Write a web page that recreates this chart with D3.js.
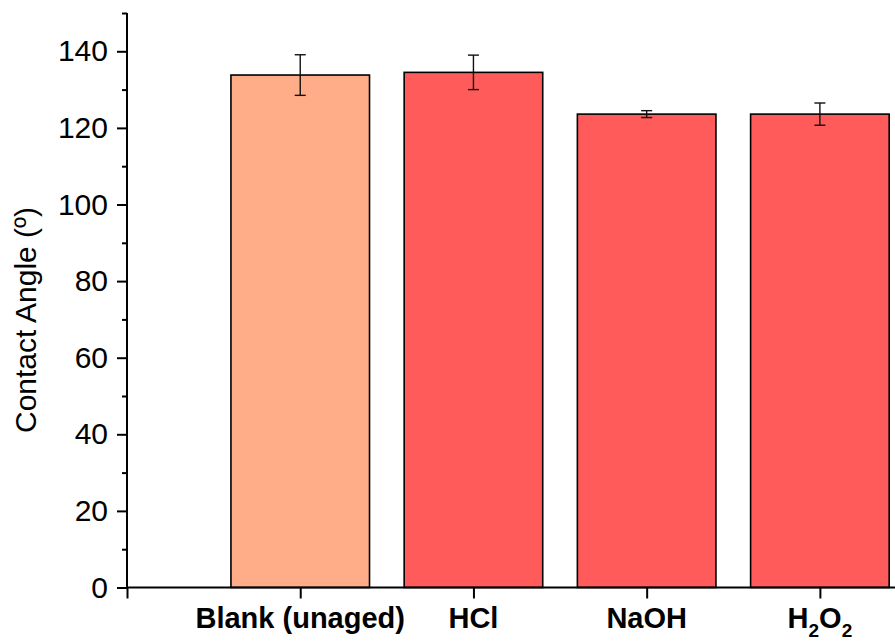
<!DOCTYPE html>
<html>
<head>
<meta charset="utf-8">
<script src="https://cdn.jsdelivr.net/npm/d3@7"></script>
<style>
  body { margin: 0; background: #fff; }
  svg { display: block; font-family: "Liberation Sans", Arial, sans-serif; }
</style>
</head>
<body>
<svg></svg>
<script>
const categories = ['Blank (unaged)', 'HCl', 'NaOH', 'H2O2'];
const means = [133.8, 134.5, 123.6, 123.6];
const errors = [5.3, 4.5, 0.9, 2.9];
const barColors = ['#FFAD88', '#FF5B5B', '#FF5B5B', '#FF5B5B'];
const yTicks = [0, 20, 40, 60, 80, 100, 120, 140];
const yMinorTicks = [10, 30, 50, 70, 90, 110, 130, 150];

const width = 895;
const height = 641;

const svg = d3.select('svg')
  .attr('width', width)
  .attr('height', height);

// axis origin sits at x=127, y=587.5
const x = d3.scaleLinear().domain([0, 4.5]).range([127, 906.5]);
const y = d3.scaleLinear().domain([0, 150]).range([587.5, 13]);
const barW = x(0.8) - x(0);

const data = categories.map((c, i) => ({ cat: c, pos: i + 1, v: means[i], e: errors[i], color: barColors[i] }));

// bars
svg.selectAll('.bar')
  .data(data)
  .enter().append('rect')
  .attr('class', 'bar')
  .attr('x', d => x(d.pos) - barW / 2)
  .attr('y', d => y(d.v))
  .attr('width', barW)
  .attr('height', d => y(0) - y(d.v))
  .attr('fill', d => d.color)
  .attr('stroke', '#000')
  .attr('stroke-width', 1.6);

// error bars
const err = svg.selectAll('.err')
  .data(data)
  .enter().append('g')
  .attr('class', 'err')
  .attr('stroke', '#111')
  .attr('stroke-width', 1.4);

err.append('line')
  .attr('x1', d => x(d.pos)).attr('x2', d => x(d.pos))
  .attr('y1', d => y(d.v + d.e)).attr('y2', d => y(d.v - d.e));
err.append('line')
  .attr('x1', d => x(d.pos) - 5.5).attr('x2', d => x(d.pos) + 5.5)
  .attr('y1', d => y(d.v + d.e)).attr('y2', d => y(d.v + d.e));
err.append('line')
  .attr('x1', d => x(d.pos) - 5.5).attr('x2', d => x(d.pos) + 5.5)
  .attr('y1', d => y(d.v - d.e)).attr('y2', d => y(d.v - d.e));

// y axis
const yAxis = svg.append('g')
  .attr('transform', `translate(${x(0)},0)`)
  .attr('font-size', 30)
  .call(d3.axisLeft(y).tickValues(yTicks).tickSize(10).tickPadding(9));
svg.append('g')
  .attr('transform', `translate(${x(0)},0)`)
  .call(d3.axisLeft(y).tickValues(yMinorTicks).tickSize(5).tickFormat(''))
  .select('.domain').remove();

yAxis.attr('font-size', 30).attr('font-family', '"Liberation Sans", Arial, sans-serif');
yAxis.select('.domain').attr('d', `M0,${y(150)}V${y(0)}`);
yAxis.selectAll('text')
  .style('font-size', '30px')
  .attr('fill', '#000');

// x axis
const xAxis = svg.append('g')
  .attr('transform', `translate(0,${y(0)})`)
  .call(d3.axisBottom(x).tickValues([0, 1, 2, 3, 4]).tickSize(11).tickFormat(''));
xAxis.select('.domain').attr('d', `M${x(0)},0H${x(4.5)}`);

svg.selectAll('.domain, .tick line')
  .attr('stroke', '#000')
  .attr('stroke-width', 2);

// category labels
const labels = svg.selectAll('.cat')
  .data(data)
  .enter().append('text')
  .attr('class', 'cat')
  .attr('x', d => x(d.pos))
  .attr('y', 628)
  .attr('text-anchor', 'middle')
  .style('font-size', '29px')
  .attr('font-weight', 'bold')
  .attr('fill', '#000');

labels.each(function (d) {
  const t = d3.select(this);
  if (d.cat === 'H2O2') {
    t.append('tspan').text('H');
    t.append('tspan').style('font-size', '19px').attr('dy', 9).text('2');
    t.append('tspan').attr('dy', -9).text('O');
    t.append('tspan').style('font-size', '19px').attr('dy', 9).text('2');
  } else {
    t.text(d.cat);
  }
});

// y title
svg.append('text')
  .attr('transform', 'translate(36,320) rotate(-90)')
  .attr('text-anchor', 'middle')
  .style('font-size', '30px')
  .attr('fill', '#000')
  .text('Contact Angle (º)');
</script>
</body>
</html>
